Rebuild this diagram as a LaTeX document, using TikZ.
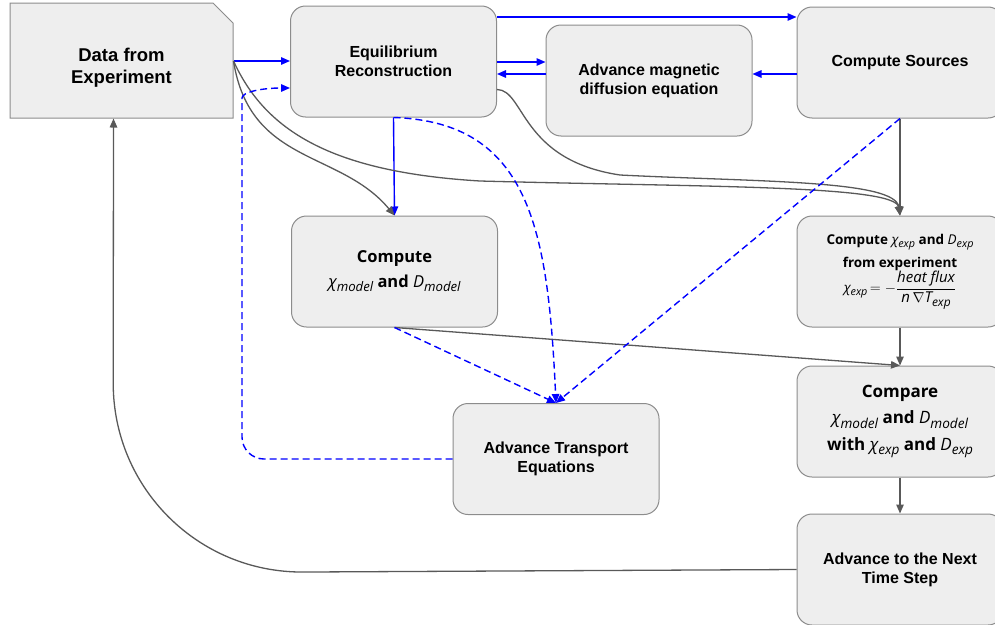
\documentclass[tikz,border=0pt]{standalone}
\usepackage{fontspec}
\usepackage{graphicx}
\setmainfont{Liberation Sans}
\newfontfamily\chifont{Open Sans}
\usetikzlibrary{arrows.meta,shapes.misc,calc}
\definecolor{BoxClr}{rgb}{0.933,0.933,0.933}
\definecolor{EdgeClr}{rgb}{0.55,0.55,0.55}
\definecolor{FlowClr}{rgb}{0,0,1}
\definecolor{LinkClr}{rgb}{0.35,0.35,0.35}
\newcommand{\vsub}[2]{{\mdseries\itshape #1\raisebox{-.45ex}{\scalebox{.8}{#2}}}}

\begin{document}
\begin{tikzpicture}[x=1pt,y=-1pt,
  box/.style={draw=EdgeClr,line width=1pt,fill=BoxClr,rounded corners=15pt,minimum width=206pt,minimum height=111pt,align=center,inner sep=2pt,font=\bfseries\fontsize{16}{19}\selectfont},
  chibox/.style={box,font=\chifont\bfseries\fontsize{17}{26.5}\selectfont},
  flowarr/.style={draw=FlowClr,line width=1.4pt,-{Triangle[length=9pt,width=7.5pt]}},
  flowdash/.style={flowarr,dash pattern=on 7pt off 4pt},
  linkarr/.style={draw=LinkClr,line width=1.3pt,-{Triangle[length=9pt,width=7.5pt]}}]
\useasboundingbox (0,0) rectangle (995,624);

\node[box,shape=chamfered rectangle,chamfered rectangle corners=north east,chamfered rectangle xsep=10pt,chamfered rectangle ysep=10pt,sharp corners,minimum width=223pt,minimum height=115pt,text height=50pt,font=\bfseries\fontsize{18.5}{22}\selectfont] (data) at (121.5,60.5) {Data from\\Experiment};
\node[box] (eq) at (393.5,61.5) {Equilibrium\\Reconstruction};
\node[box] (mg) at (649,80.5) {Advance magnetic\\diffusion equation};
\node[box] (src) at (900,62.5) {Compute Sources};
\node[chibox,font=\chifont\bfseries\fontsize{13.5}{23}\selectfont] (cx) at (900,271.5) {Compute \vsub{χ}{exp} and \vsub{D}{exp}\\from experiment\\\vsub{χ}{exp}$\,=-\displaystyle\frac{\mbox{\mdseries\itshape\fontsize{15}{17}\selectfont heat flux}}{\mbox{\mdseries\itshape\fontsize{15}{17}\selectfont n}\,\nabla\mbox{\fontsize{15}{17}\selectfont\vsub{T}{exp}}}$};
\node[chibox,font=\chifont\bfseries\fontsize{16.5}{25}\selectfont] (cm) at (394.5,271.5) {Compute\\\vsub{χ}{model} and \vsub{D}{model}};
\node[chibox] (cp) at (900,421.5) {Compare\\\vsub{χ}{model} and \vsub{D}{model}\\with \vsub{χ}{exp} and \vsub{D}{exp}};
\node[box] (tr) at (556,459) {Advance Transport\\Equations};
\node[box] (nx) at (900,569.5) {Advance to the Next\\Time Step};

\coordinate (d1) at ([yshift=-0.5pt]data.east);
\coordinate (e1) at ([yshift=44.5pt]eq.east);
\coordinate (e2) at ([yshift=-0.5pt]eq.east);
\coordinate (m1) at ([yshift=6.5pt]mg.west);
\coordinate (s1) at ([yshift=-11.5pt]src.west);
\draw[flowarr] (d1) -- (d1 -| eq.west);
\draw[flowarr] (e1) -- (e1 -| src.west);
\draw[flowarr] (e2) -- (e2 -| mg.west);
\draw[flowarr] (m1) -- (m1 -| eq.east);
\draw[flowarr] (s1) -- (s1 -| mg.east);
\draw[flowarr] (eq.south) -- (cm.north);

\draw[linkarr] (d1) .. controls (250,165) and (340,150) .. (cm.north);
\draw[linkarr] (d1) .. controls (265,130) and (330,172) .. (480,181) .. controls (700,187) and (895,185) .. (cx.north);
\draw[linkarr] ([yshift=-28pt]eq.east) .. controls (525,90) and (520,160) .. (620,175) .. controls (760,182) and (895,180) .. (cx.north);
\draw[linkarr] (src.south) -- (cx.north);
\draw[linkarr] (cm.south) -- (cp.north);
\draw[linkarr] (cx.south) -- (cp.north);
\draw[linkarr] (cp.south) -- (nx.north);
\draw[linkarr,rounded corners=190pt] (nx.west) -- (113,573) -- ([xshift=-8pt]data.south);

\draw[flowdash,rounded corners=22pt] (tr.west) -- (242,459) -- (242,120) .. controls (242,92) and (262,88) .. ([yshift=-26.5pt]eq.west);
\draw[flowdash] (eq.south) .. controls (530,122) and (548,230) .. (tr.north);
\draw[flowdash] (cm.south) -- (tr.north);
\draw[flowdash] (src.south) -- (tr.north);

\end{tikzpicture}
\end{document}
